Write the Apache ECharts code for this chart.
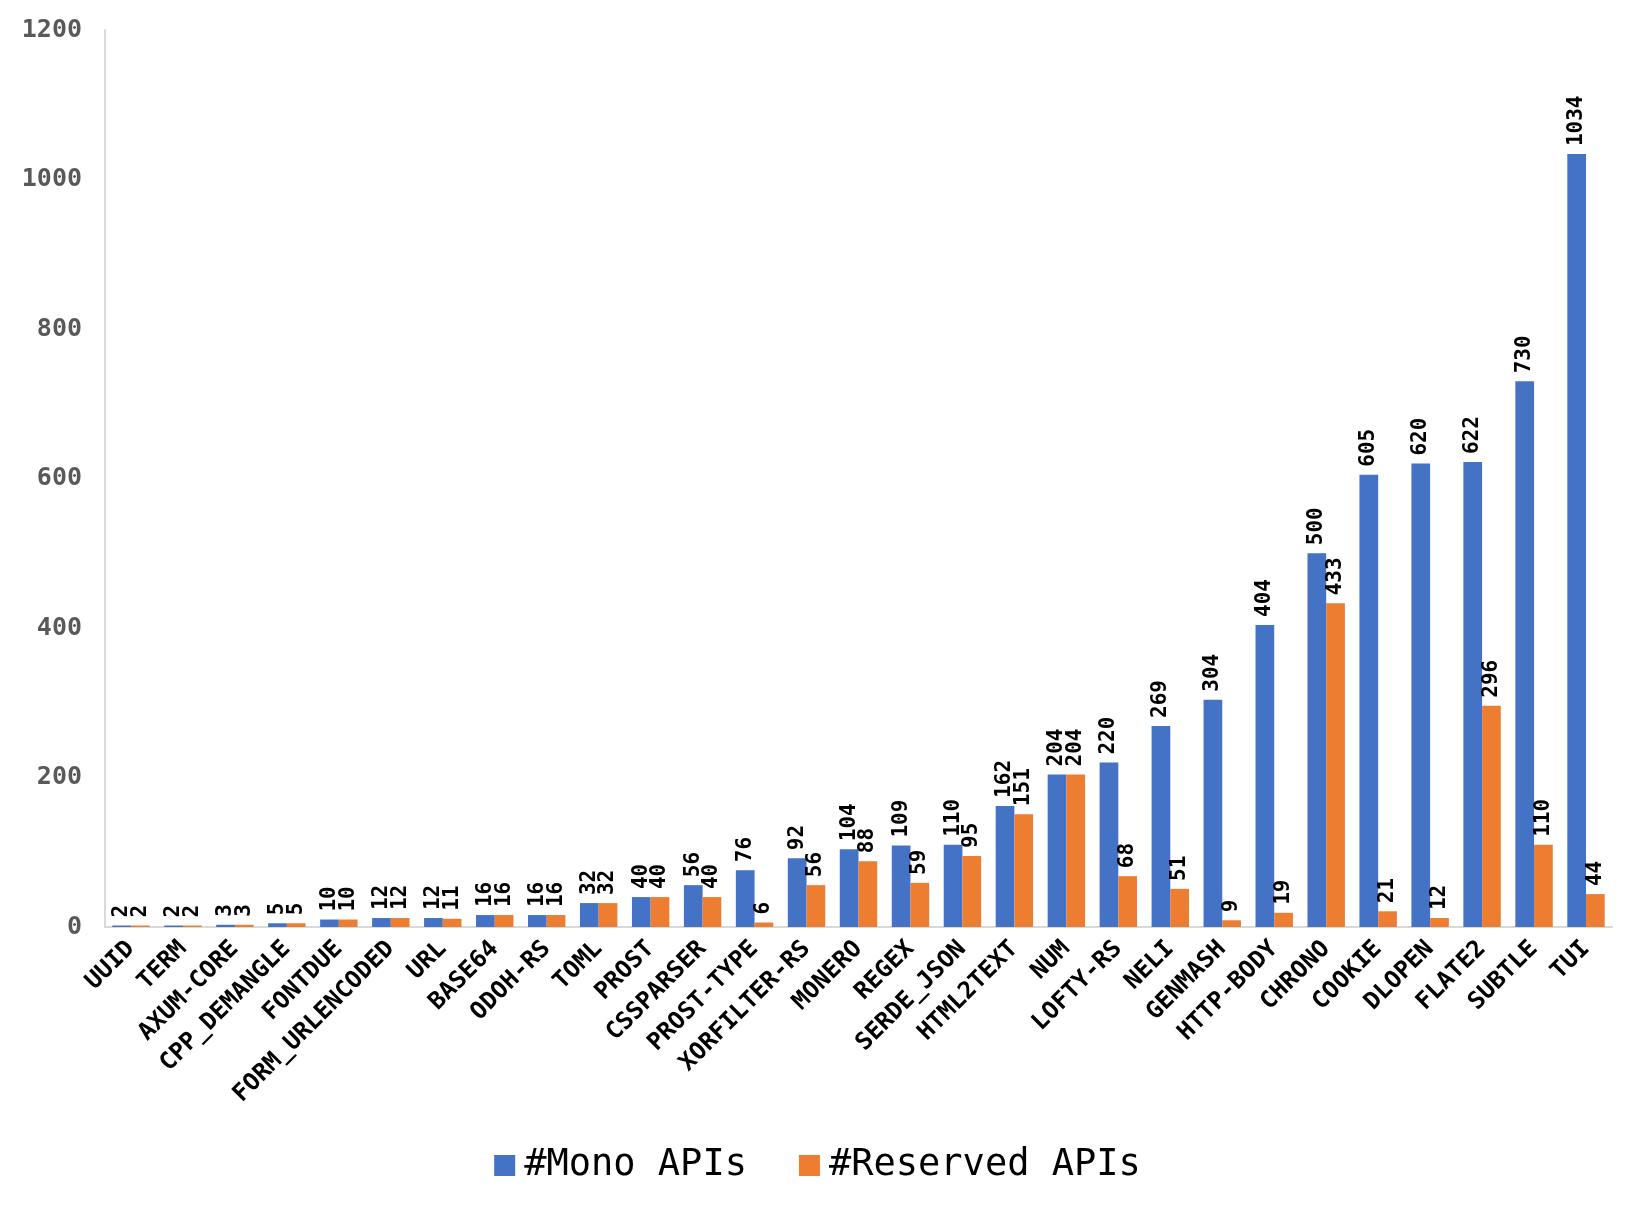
<!DOCTYPE html>
<html><head><meta charset="utf-8">
<script src="https://cdn.jsdelivr.net/npm/echarts@6/dist/echarts.min.js"></script>
<style>html,body{margin:0;padding:0;background:#fff}#c{width:1635px;height:1211px}</style>
</head><body><div id="c"></div>
<script>
const categories = ["UUID","TERM","AXUM-CORE","CPP_DEMANGLE","FONTDUE","FORM_URLENCODED","URL","BASE64","ODOH-RS","TOML","PROST","CSSPARSER","PROST-TYPE","XORFILTER-RS","MONERO","REGEX","SERDE_JSON","HTML2TEXT","NUM","LOFTY-RS","NELI","GENMASH","HTTP-BODY","CHRONO","COOKIE","DLOPEN","FLATE2","SUBTLE","TUI"];
const monoApis = [2,2,3,5,10,12,12,16,16,32,40,56,76,92,104,109,110,162,204,220,269,304,404,500,605,620,622,730,1034];
const reservedApis = [2,2,3,5,10,12,11,16,16,32,40,40,6,56,88,59,95,151,204,68,51,9,19,433,21,12,296,110,44];
const yTicks = [0,200,400,600,800,1000,1200];

const FONT = '"DejaVu Sans Mono", monospace';
const chart = echarts.init(document.getElementById('c'));
const lbl = {show:true, position:'top', rotate:90, align:'left', verticalAlign:'middle', distance:8,
  color:'#000', fontFamily:FONT, fontWeight:'bold', fontSize:21};
chart.setOption({
  animation:false,
  grid:{left:105, right:23, top:30, bottom:284, containLabel:false},
  legend:{bottom:22, left:'center', itemWidth:21, itemHeight:21, itemGap:52, icon:'rect',
    textStyle:{fontFamily:FONT, fontSize:37, color:'#000', padding:[0,0,0,4]}},
  xAxis:{type:'category', data:categories,
    axisLine:{lineStyle:{color:'#d9d9d9', width:2}}, axisTick:{show:false},
    axisLabel:{rotate:45, interval:0, margin:18, color:'#000', fontFamily:FONT, fontWeight:'bold', fontSize:24}},
  yAxis:{type:'value', min:yTicks[0], max:yTicks[yTicks.length-1], interval:200,
    axisLine:{show:true, lineStyle:{color:'#d9d9d9', width:2}}, axisTick:{show:false},
    splitLine:{show:false},
    axisLabel:{margin:23, color:'#595959', fontFamily:FONT, fontWeight:'bold', fontSize:25,
      formatter: v => String(v)}},
  series:[
    {name:'#Mono APIs', type:'bar', data:monoApis, barGap:'0%', barCategoryGap:'28%',
      itemStyle:{color:'#4472C4'}, label:lbl},
    {name:'#Reserved APIs', type:'bar', data:reservedApis, barGap:'0%', barCategoryGap:'28%',
      itemStyle:{color:'#ED7D31'}, label:lbl}
  ]
});
</script></body></html>
